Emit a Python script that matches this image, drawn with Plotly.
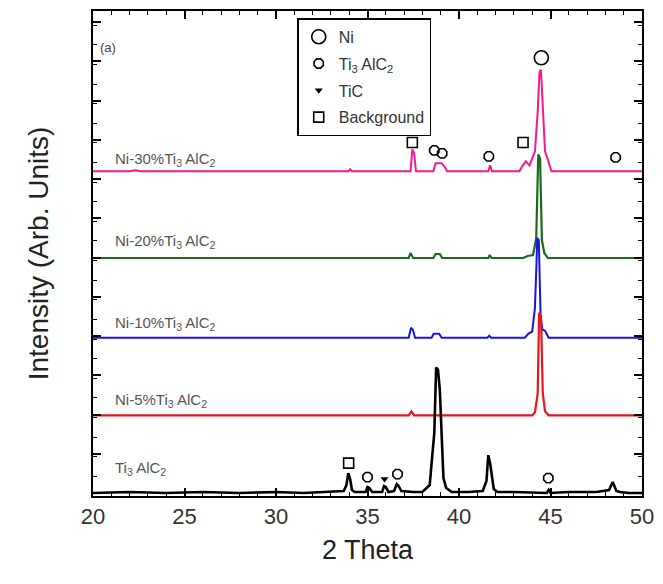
import plotly.graph_objects as go

FONT = "Liberation Sans, Arial, sans-serif"

# ---- XRD patterns (2theta, intensity relative to each curve's baseline) ----
tt_ti3alc2 = [20, 22, 24, 26, 28, 30, 31.5, 33, 33.7, 33.85, 33.95, 34.05, 34.15, 34.3, 34.9, 35.0,
              35.1, 35.25, 35.8, 35.9, 36.0, 36.15, 36.45, 36.6, 36.7, 36.85, 37.5, 38.0, 38.4, 38.55,
              38.65, 38.75, 38.85, 38.95, 39.05, 39.15, 39.3, 39.6, 40.5, 41.3, 41.5, 41.6, 41.7, 41.8,
              41.9, 42.1, 43.0, 44.8, 44.9, 45.0, 46.0, 47.5, 48.2, 48.4, 48.5, 48.6, 48.8, 49.3, 50]
in_ti3alc2 = [0, 1, 0, 1, 0, 1, 0, 1, 2, 8, 20, 14, 3, 1, 1, 6,
              5, 1, 1, 7, 6, 1, 2, 9, 7, 2, 1, 1, 8, 40,
              60, 126, 124, 104, 60, 15, 5, 1, 1, 2, 12, 38, 30, 14,
              4, 1, 1, 0, 3, 0, 1, 1, 3, 11, 6, 2, 1, 0, 0]

tt_ni5 = [20, 37.25, 37.4, 37.55, 44.0, 44.15, 44.3, 44.38, 44.48, 44.58, 44.7, 44.9, 50]
in_ni5 = [0, 0, 4, 0, 0, 3, 22, 103, 100, 22, 4, 0, 0]

tt_ni10 = [20, 37.25, 37.38, 37.48, 37.6, 38.5, 38.62, 38.92, 39.05, 41.55, 41.65, 41.75, 43.6,
           43.8, 44.0, 44.15, 44.28, 44.36, 44.46, 44.56, 44.7, 44.9, 50]
in_ni10 = [0, 0, 10, 8, 0, 0, 4, 4, 0, 0, 2, 0, 0,
           4, 6, 30, 100, 98, 20, 8, 7, 0, 0]

tt_ni20 = [20, 37.25, 37.35, 37.5, 38.6, 38.72, 38.95, 39.08, 41.6, 41.68, 41.78, 43.5, 43.75,
           44.05, 44.22, 44.33, 44.43, 44.53, 44.66, 44.85, 50]
in_ni20 = [0, 0, 5, 0, 0, 4, 4, 0, 0, 3, 0, 0, 2,
           3, 20, 104, 100, 18, 5, 0, 0]

tt_ni30 = [20, 22, 22.3, 22.6, 33.95, 34.05, 34.15, 37.35, 37.45, 37.55, 37.65, 38.6, 38.72, 39.05,
           39.2, 39.35, 41.6, 41.7, 41.8, 43.3, 43.45, 43.65, 43.85, 44.15, 44.3, 44.4, 44.48, 44.58,
           44.7, 44.85, 45.05, 50]
in_ni30 = [0, 0, 1, 0, 0, 2, 0, 0, 22, 18, 0, 0, 8, 8,
           5, 0, 0, 6, 0, 0, 5, 10, 6, 20, 60, 100, 102, 60,
           20, 12, 0, 0]

# vertical stacking offsets (arb. units)
off_ti3alc2, off_ni5, off_ni10, off_ni20, off_ni30 = 3, 81, 159, 239, 326

# ---- phase markers ----
ni_x, ni_y = [44.5], [440]
ti3alc2_x = [38.65, 39.08, 41.63, 48.56, 35.0, 36.64, 44.88]
ti3alc2_y = [347, 344, 341, 340, 19, 22, 18]
tic_x, tic_y = [35.93], [17]
bg_x = [37.45, 43.5, 33.97]
bg_y = [355, 355, 33]

labels = ["Ni-30%Ti<sub>3</sub> AlC<sub>2</sub>", "Ni-20%Ti<sub>3</sub> AlC<sub>2</sub>",
          "Ni-10%Ti<sub>3</sub> AlC<sub>2</sub>", "Ni-5%Ti<sub>3</sub> AlC<sub>2</sub>",
          "Ti<sub>3</sub> AlC<sub>2</sub>"]
label_y = [338, 256, 173, 96, 28]

fig = go.Figure()

series = [
    (tt_ni30, in_ni30, off_ni30, "#F21A8C", 2),
    (tt_ni20, in_ni20, off_ni20, "#1B6B1B", 2.2),
    (tt_ni10, in_ni10, off_ni10, "#1414E6", 2),
    (tt_ni5, in_ni5, off_ni5, "#E8141E", 2.2),
    (tt_ti3alc2, in_ti3alc2, off_ti3alc2, "#000000", 2.6),
]
for xs, ys, off, col, w in series:
    fig.add_trace(go.Scatter(x=xs, y=[off + v for v in ys], mode="lines",
                             line=dict(color=col, width=w), showlegend=False,
                             hoverinfo="skip"))

mk_line = dict(color="black", width=1.6)
fig.add_trace(go.Scatter(x=ni_x, y=ni_y, mode="markers", name="Ni", legendgroup="a",
                         marker=dict(symbol="circle-open", size=14, line=mk_line, color="black")))
fig.add_trace(go.Scatter(x=ti3alc2_x, y=ti3alc2_y, mode="markers",
                         name="Ti<sub>3</sub> AlC<sub>2</sub>", legendgroup="b",
                         marker=dict(symbol="octagon-open", size=10, line=mk_line, color="black")))
fig.add_trace(go.Scatter(x=tic_x, y=tic_y, mode="markers", name="TiC", legendgroup="c",
                         marker=dict(symbol="triangle-down", size=7, color="black")))
fig.add_trace(go.Scatter(x=bg_x, y=bg_y, mode="markers", name="Background", legendgroup="d",
                         marker=dict(symbol="square-open", size=10, line=mk_line, color="black")))

for txt, yy in zip(labels, label_y):
    fig.add_annotation(x=21.1, y=yy, text=txt, showarrow=False, xanchor="left",
                       yanchor="middle", font=dict(family=FONT, size=15, color="#555555"))

fig.add_annotation(x=0.027, y=0.925, xref="paper", yref="paper", text="(a)", showarrow=False,
                   xanchor="center", yanchor="middle",
                   font=dict(family=FONT, size=13, color="#444444"))

fig.update_layout(
    width=663, height=584, autosize=False,
    margin=dict(l=93, r=17, t=9, b=88),
    paper_bgcolor="white", plot_bgcolor="white",
    font=dict(family=FONT, color="#222222"),
    legend=dict(x=0.372, y=0.985, xanchor="left", yanchor="top",
                bgcolor="white", bordercolor="black", borderwidth=1.5,
                font=dict(family=FONT, size=16, color="#333333"),
                traceorder="grouped", tracegroupgap=3, itemwidth=30),
    xaxis=dict(range=[20, 50], tickvals=[20, 25, 30, 35, 40, 45, 50],
               ticks="inside", ticklen=8, tickwidth=1.5, tickcolor="black",
               minor=dict(dtick=1, ticks="inside", ticklen=4, tickwidth=1.2, tickcolor="black"),
               showline=True, linecolor="black", linewidth=2, mirror="allticks",
               showgrid=False, zeroline=False,
               tickfont=dict(family=FONT, size=22, color="#333333"),
               title=dict(text="2 Theta", font=dict(family=FONT, size=27, color="#222222"),
                          standoff=12)),
    yaxis=dict(range=[0, 487], tick0=3, dtick=39.4, showticklabels=False,
               ticks="inside", ticklen=8, tickwidth=1.5, tickcolor="black",
               minor=dict(dtick=19.7, ticks="inside", ticklen=4, tickwidth=1.2, tickcolor="black"),
               showline=True, linecolor="black", linewidth=2, mirror="allticks",
               showgrid=False, zeroline=False,
               title=dict(text="Intensity (Arb. Units)",
                          font=dict(family=FONT, size=28, color="#222222"), standoff=34)),
)

fig.write_html("out.html")
